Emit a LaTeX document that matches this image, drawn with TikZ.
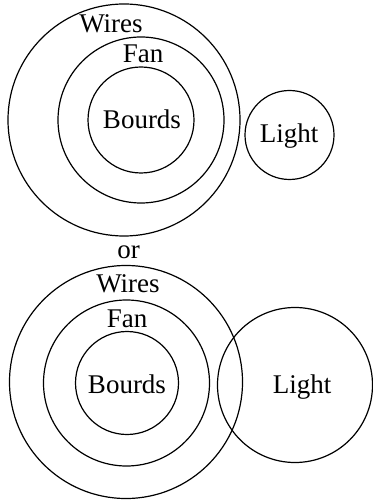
\documentclass[tikz,border=0pt]{standalone}
\usepackage{fontspec}
\setmainfont{Liberation Serif}
\tikzset{lbl/.style={anchor=base, inner sep=0pt, font=\fontsize{27}{31}\selectfont}}
\begin{document}
\begin{tikzpicture}[x = 1pt, y = -1pt, line width = 1.2pt]
\useasboundingbox (0,0) rectangle (372,502);
% light apart from the rings
\draw (124,120) circle (116);
\draw (141,120) circle (83);
\draw (141,120) circle (53);
\draw (289.5,135) circle (44.5);
\node[lbl] (wiresA) at (111,33) {Wires};
\node[lbl] (fanA) at (143,62.5) {Fan};
\node[lbl] (bourdsA) at (142,129) {Bourds};
\node[lbl] (lightA) at (289,143) {Light};
\node[lbl] (or) at (128.5,258) {or};
% light overlapping the rings
\draw (126,382) circle (116.5);
\draw (126.5,383) circle (83);
\draw (127,383) circle (51.5);
\draw (295,385) circle (77.5);
\node[lbl] (wiresB) at (128,292.5) {Wires};
\node[lbl] (fanB) at (127,327) {Fan};
\node[lbl] (bourdsB) at (127,393) {Bourds};
\node[lbl] (lightB) at (302,393) {Light};
\end{tikzpicture}
\end{document}
